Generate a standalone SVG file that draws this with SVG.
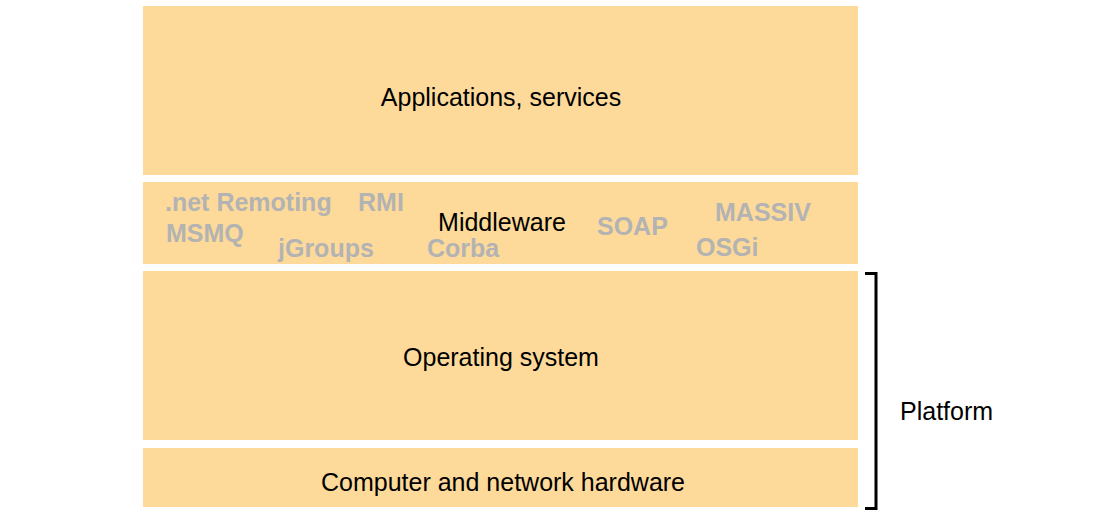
<svg xmlns="http://www.w3.org/2000/svg" width="1103" height="517" viewBox="0 0 1103 517">
<style>
.layer{fill:#FDDA9A}
.lbl{font-family:"Liberation Sans",Arial,sans-serif;font-size:25px;fill:#000}
.tech{font-family:"Liberation Sans",Arial,sans-serif;font-size:25px;font-weight:bold;fill:#B3B3B3}
</style>
<rect width="1103" height="517" fill="#fff"/>
<g id="applications">
<rect class="layer" x="143" y="6" width="715" height="169"/>
<text class="lbl" x="501" y="106" text-anchor="middle">Applications, services</text>
</g>
<g id="middleware">
<rect class="layer" x="143" y="182" width="715" height="82"/>
<text class="tech" x="165" y="211">.net Remoting</text>
<text class="tech" x="358" y="211">RMI</text>
<text class="tech" x="166" y="242">MSMQ</text>
<text class="tech" x="278" y="257">jGroups</text>
<text class="tech" x="427" y="257">Corba</text>
<text class="tech" x="597" y="235">SOAP</text>
<text class="tech" x="715" y="221">MASSIV</text>
<text class="tech" x="696" y="256">OSGi</text>
<text class="lbl" x="502" y="231" text-anchor="middle">Middleware</text>
</g>
<g id="os">
<rect class="layer" x="143" y="271" width="715" height="169"/>
<text class="lbl" x="501" y="366" text-anchor="middle">Operating system</text>
</g>
<g id="hardware">
<rect class="layer" x="143" y="448" width="715" height="59"/>
<text class="lbl" x="503" y="491" text-anchor="middle">Computer and network hardware</text>
</g>
<g id="connectors">
<path d="M865 273.5 H876 V508.5 H865" fill="none" stroke="#000" stroke-width="3"/>
</g>
<g id="platform">
<text class="lbl" x="900" y="420">Platform</text>
</g>
</svg>
